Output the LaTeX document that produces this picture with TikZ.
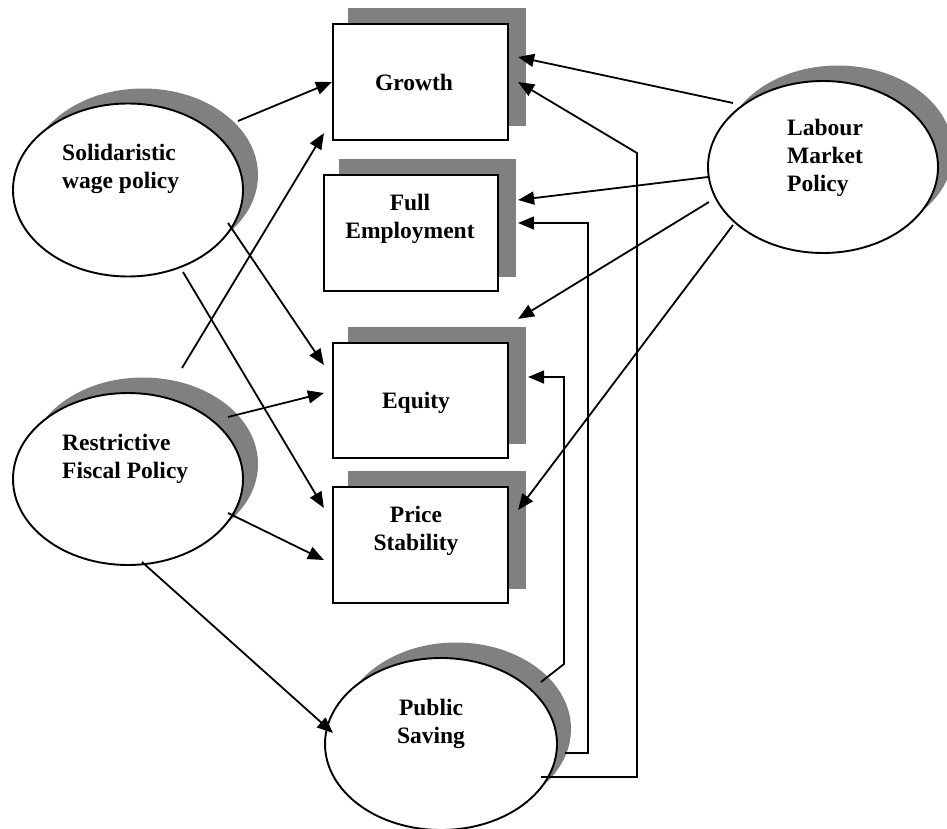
\documentclass[tikz,border=0pt]{standalone}
\usepackage{fontspec}
\setmainfont{Liberation Serif}
\usetikzlibrary{shapes.geometric,arrows.meta,backgrounds}
\definecolor{shadowgray}{HTML}{808080}
\begin{document}
\begin{tikzpicture}[x=1pt,y=-1pt,
  box/.style={draw, line width=2.2pt, fill=white, rectangle, minimum width=175pt, minimum height=116pt, inner sep=0pt},
  ell/.style={draw, line width=1.9pt, fill=white, ellipse, minimum width=230pt, minimum height=173pt, inner sep=0pt},
  txt/.style={font=\fontsize{23.5}{28}\selectfont\bfseries, inner sep=0pt},
  conn/.style={line width=1.8pt, -{Triangle[length=16pt,width=13pt]}},
]
\useasboundingbox (0,0) rectangle (947,828);

% boxes
\node[box] (growth) at (420.5,82) {};
\node[box, minimum width=174pt] (full) at (411,233) {};
\node[box, minimum height=115pt] (equity) at (420.5,400.5) {};
\node[box] (price) at (420.5,545) {};

% ellipses
\node[ell] (sol) at (128,190) {};
\node[ell, minimum height=172pt] (res) at (128,479) {};
\node[ell, minimum height=172pt] (lab) at (823,167) {};
\node[ell, minimum width=232pt, minimum height=172pt] (ps) at (441,744) {};

% texts
\node[txt, anchor=base] (growth-t) at ([shift={(-6.5,8)}]growth.center) {Growth};
\node[txt, anchor=north, align=center] (full-t) at ([shift={(-1,-39)}]full.center) {Full\\Employment};
\node[txt, anchor=base] (equity-t) at ([shift={(-4.5,7.5)}]equity.center) {Equity};
\node[txt, anchor=north, align=center] (price-t) at ([shift={(-4.5,-39)}]price.center) {Price\\Stability};
\node[txt, anchor=north west, align=left] (sol-t) at ([shift={(-66,-46)}]sol.center) {Solidaristic\\wage policy};
\node[txt, anchor=north west, align=left] (res-t) at ([shift={(-66,-45)}]res.center) {Restrictive\\Fiscal Policy};
\node[txt, anchor=north west, align=left] (lab-t) at ([shift={(-36,-48)}]lab.center) {Labour\\Market\\Policy};
\node[txt, anchor=north, align=center] (ps-t) at ([shift={(-10,-45)}]ps.center) {Public\\Saving};

% shadows
\begin{scope}[on background layer]
\foreach \n in {growth,full,equity,price}
  \fill[shadowgray] ([shift={(16.5,-15)}]\n.north west) rectangle ([shift={(16.5,-15)}]\n.south east);
\foreach \n in {sol,res,lab,ps}
  \fill[shadowgray] ([shift={(15,-15)}]\n.center) ellipse [x radius=115, y radius=86.5];
\end{scope}

% connectors
\draw[conn] ([shift={(110,-69)}]sol.center) -- (growth.west);
\draw[conn] ([shift={(100,33)}]sol.center) -- ([shift={(-8,-35.5)}]equity.west);
\draw[conn] ([shift={(55,82)}]sol.center) -- ([shift={(-8,-37)}]price.west);
\draw[conn] ([shift={(54,-111)}]res.center) -- ([shift={(-8,-8)}]growth.south west);
\draw[conn] ([shift={(100,-62)}]res.center) -- ([shift={(-8,-7.5)}]equity.west);
\draw[conn] ([shift={(100,34)}]res.center) -- ([shift={(-8,15)}]price.west);
\draw[conn] ([shift={(14,83)}]res.center) -- ([shift={(-108,-11)}]ps.center);
\draw[conn] ([shift={(-90,-64)}]lab.center) -- ([shift={(9,-25)}]growth.east);
\draw[conn] ([shift={(-115,10)}]lab.center) -- ([shift={(19,-33)}]full.east);
\draw[conn] ([shift={(-114,35)}]lab.center) -- ([shift={(9,-23)}]equity.north east);
\draw[conn] ([shift={(-90,58)}]lab.center) -- ([shift={(9,-35)}]price.east);
\draw[conn] ([shift={(100,-62)}]ps.center) -- ++(23,-18) |- ([shift={(19,-23.5)}]equity.east);
\draw[conn] ([shift={(124,9)}]ps.center) -- ++(23,0) |- ([shift={(19,-10)}]full.east);
\draw[conn] ([shift={(100,33)}]ps.center) -- ++(96,0) -- ++(0,-624) -- ([shift={(9,0)}]growth.east);
\end{tikzpicture}
\end{document}
